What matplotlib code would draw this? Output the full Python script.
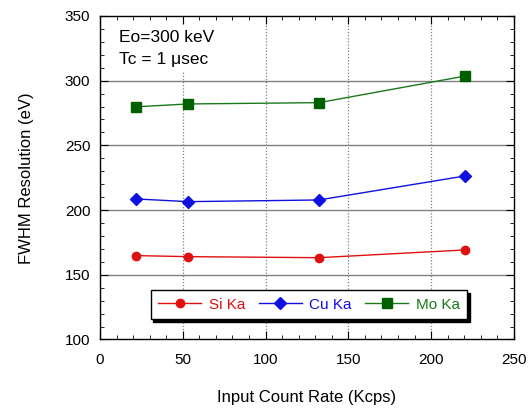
import matplotlib.pyplot as plt
from matplotlib.ticker import MultipleLocator

plt.rcParams['font.family'] = ['Liberation Sans', 'DejaVu Sans']

# input count rate (Kcps)
rate = [21.7, 53.3, 132.2, 220.7]

# FWHM resolution (eV)
si_ka = [164.8, 164.0, 163.2, 169.2]
cu_ka = [208.6, 206.5, 207.8, 226.4]
mo_ka = [279.8, 282.0, 283.0, 303.6]

series = [
    ('Si Ka', si_ka, 'o', '#e01010', '#e01010'),
    ('Cu Ka', cu_ka, 'D', '#1010e0', '#1010e0'),
    ('Mo Ka', mo_ka, 's', '#1a7a1a', '#006000'),
]

fig = plt.figure(figsize=(5.32, 4.09), dpi=100)
ax = fig.add_axes([0.188, 0.170, 0.778, 0.791])

ax.set_xlim(0, 250)
ax.set_ylim(100, 350)

for y in [150, 200, 250, 300]:
    ax.axhline(y, color='#808080', lw=1.0, zorder=1)
for x in [50, 100, 150, 200]:
    ax.axvline(x, color='#808080', lw=0.9, ls=(0, (1, 1.5)), zorder=1)

for name, vals, mk, lc, mc in series:
    ax.plot(rate, vals, color=lc, lw=1.0, marker=mk, markersize=6 if mk != 's' else 6.5,
            markerfacecolor=mc, markeredgecolor=mc, label=name, zorder=3)

ax.xaxis.set_major_locator(MultipleLocator(50))
ax.xaxis.set_minor_locator(MultipleLocator(10))
ax.yaxis.set_major_locator(MultipleLocator(50))
ax.yaxis.set_minor_locator(MultipleLocator(10))
ax.tick_params(which='both', direction='in', top=True, right=True, labelsize=11)
ax.tick_params(which='major', length=6)
ax.tick_params(which='minor', length=3)
ax.tick_params(axis='x', pad=10)
ax.tick_params(axis='y', pad=7)
for s in ax.spines.values():
    s.set_linewidth(1.0)

ax.set_xlabel('Input Count Rate (Kcps)', fontsize=12, labelpad=16)
ax.set_ylabel('FWHM Resolution (eV)', fontsize=12, labelpad=22)

ax.text(0.045, 0.958, 'Eo=300 keV\nTc = 1 \u03bcsec', transform=ax.transAxes,
        ha='left', va='top', fontsize=12.5, linespacing=1.6,
        bbox=dict(facecolor='white', edgecolor='none', pad=3), zorder=2)

leg = ax.legend(loc='center', bbox_to_anchor=(0.505, 0.108), ncol=3, fontsize=11,
                frameon=True, fancybox=False, shadow={'color': 'black', 'alpha': 1},
                edgecolor='black', handlelength=2.8, columnspacing=0.9,
                handletextpad=0.5, borderpad=0.5, borderaxespad=0, framealpha=1)
leg.get_frame().set_linewidth(1.0)
for txt, (_, _, _, lc, _) in zip(leg.get_texts(), series):
    txt.set_color(lc)

fig.savefig('out.png', dpi=100)
